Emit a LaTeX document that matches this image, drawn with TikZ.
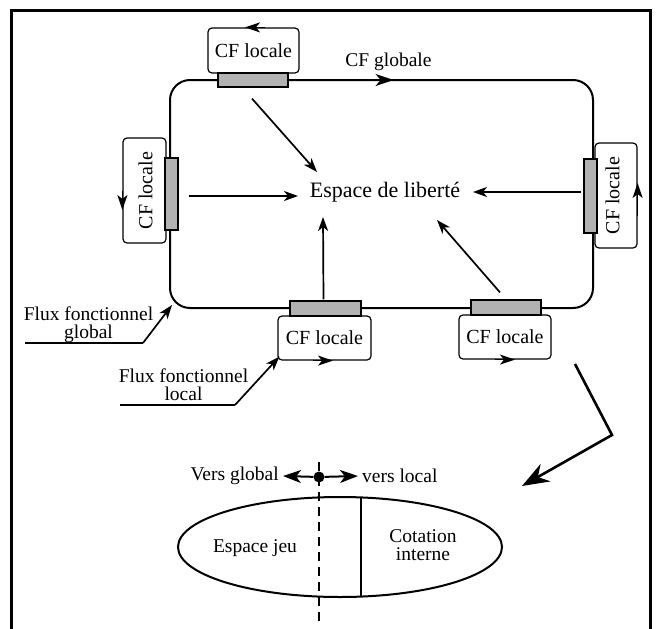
\documentclass[tikz,border=0pt]{standalone}
\usepackage{fontspec}
\setmainfont{Liberation Serif}
\usetikzlibrary{arrows.meta,shapes.geometric}
\begin{document}
\begin{tikzpicture}[x=1pt,y=-1pt,
  txt/.style={font=\fontsize{19.5}{16}\selectfont, inner sep=0pt, align=center},
  twoline/.style={font=\fontsize{19.5}{18}\selectfont, inner sep=0pt, align=center},
  cftxt/.style={font=\fontsize{20}{22}\selectfont},
  cfbox/.style={draw, rounded corners=4pt, line width=1.2pt, fill=white, inner sep=0pt},
  bar/.style={draw, fill=black!30, line width=1.2pt, inner sep=0pt},
  arr/.style={line width=1.7pt, -{Stealth[length=14pt,width=10pt,inset=4pt]}},
  thickline/.style={line width=2.6pt},
  edgetip/.style={line width=1.2pt, -{Stealth[length=15pt,width=10pt,inset=4pt]}},
  bigedgetip/.style={line width=2pt, -{Stealth[length=18pt,width=12pt,inset=5pt]}},
  varr/.style={line width=2pt, -{Stealth[length=18pt,width=13pt,inset=5pt]}},
]
\useasboundingbox (0,0) rectangle (656,629);
% frame
\draw[line width=3pt] (11,629) -- (11,10) -- (650,10) -- (650,629);

% global loop
\node[draw, rounded corners=20pt, line width=2pt, minimum width=423pt, minimum height=228pt, inner sep=0pt] (loop) at (381.5,194) {};

% CF locale boxes
\node[cfbox, cftxt, minimum width=91pt, minimum height=45pt] (tcf) at (253.5,50.5) {CF locale};
\node[cfbox, minimum width=43pt, minimum height=105pt] (lcf) at (144.5,190.5) {};
\node[cftxt, rotate=90, inner sep=0pt] (lcft) at (145.5,190.5) {CF locale};
\node[cfbox, minimum width=42pt, minimum height=105pt] (rcf) at (616,195.5) {};
\node[cftxt, rotate=90, inner sep=0pt] (rcft) at (612.5,195.5) {CF locale};
\node[cfbox, cftxt, minimum width=93pt, minimum height=44pt] (mcf) at (324.5,338) {CF locale};
\node[cfbox, cftxt, minimum width=92pt, minimum height=44pt] (bcf) at (505,337) {CF locale};

% grey bars
\node[bar, minimum width=70pt, minimum height=14pt] (tbar) at (253,80) {};
\node[bar, minimum width=13pt, minimum height=72pt] (lbar) at (171.5,194) {};
\node[bar, minimum width=13pt, minimum height=74pt] (rbar) at (590.5,196) {};
\node[bar, minimum width=71pt, minimum height=15pt] (mbar) at (325.5,308.5) {};
\node[bar, minimum width=70pt, minimum height=15pt] (bbar) at (506,307.5) {};

% arrow tips on flows
\draw[edgetip] ([xshift=11.5pt]tcf.north) -- ([xshift=-8.5pt]tcf.north);
\draw[edgetip] (lcf.west) -- ([shift={(0,19.5)}]lcf.west);
\draw[edgetip] ([shift={(0,20)}]rcf.east) -- ([shift={(0,-12.5)}]rcf.east);
\draw[edgetip] ([xshift=-11.5pt]mcf.south) -- ([xshift=8.5pt]mcf.south);
\draw[edgetip] ([xshift=-10pt]bcf.south) -- ([xshift=10pt]bcf.south);
\draw[bigedgetip] ([xshift=85pt]tbar.east) -- ([xshift=105pt]tbar.east);

% labels
\node[txt] (cfg) at (388.5,62) {CF globale};
\node[font=\fontsize{22}{24}\selectfont, inner sep=2pt] (esp) at (385,192) {Espace de liberté};

% arrows to Espace de liberte
\draw[arr] ([shift={(-1,11)}]tbar.south) -- ([shift={(-68,-20)}]esp.center);
\draw[arr] ([shift={(10,2)}]lbar.east) -- ([shift={(-87,4)}]esp.center);
\draw[arr] ([shift={(-2,-1)}]mbar.north) -- ([shift={(-62,25)}]esp.center);
\draw[arr] ([shift={(-6,-7)}]bbar.north) -- ([shift={(52,28)}]esp.center);
\draw[arr] ([shift={(-2,-4)}]rbar.west) -- ([shift={(88,0)}]esp.center);

% flux fonctionnel global
\node[twoline] (fg) at (88.5,325) {Flux fonctionnel\\global};
\coordinate (fgA) at (25,343);
\coordinate (fgB) at (143,343);
\draw[thickline] (fgA) -- (fgB);
\draw[arr] (fgB) -- ([shift={(3,-4)}]loop.south west);

% flux fonctionnel local
\node[twoline] (fl) at (183.5,385) {Flux fonctionnel\\local};
\coordinate (flA) at (120,405);
\coordinate (flB) at (235,405);
\draw[thickline] (flA) -- (flB);
\draw[arr] (flB) -- ([shift={(2,-4)}]mcf.south west);

% big arrow
\coordinate (b1) at (575,364);
\coordinate (b2) at (612,435);
\coordinate (b3) at (522,486);
\draw[line width=2.6pt, line join=miter, -{Stealth[length=27pt,width=20pt]}] (b1) -- (b2) -- (b3);

% lower part
\node[draw, ellipse, line width=2pt, minimum width=324pt, minimum height=100pt, inner sep=0pt] (ell) at (340,547) {};
\draw[line width=1.2pt] (361,497.4) -- (361,596.6);
\draw[line width=1.2pt, dash pattern=on 9pt off 6pt] (319,462) -- (319,622);
\node[circle, fill, inner sep=0pt, minimum size=11pt] (dot) at (319,477) {};
\node[txt, anchor=east, inner sep=4pt] (vg) at (283,476) {Vers global};
\node[txt, anchor=west, inner sep=4pt] (vl) at (358,476) {vers local};
\draw[varr] (dot) -- (vg.east);
\draw[varr] (dot) -- (vl.west);
\node[txt] (ej) at (255,548) {Espace jeu};
\node[twoline] (ci) at (423,545) {Cotation\\interne};
\end{tikzpicture}
\end{document}
